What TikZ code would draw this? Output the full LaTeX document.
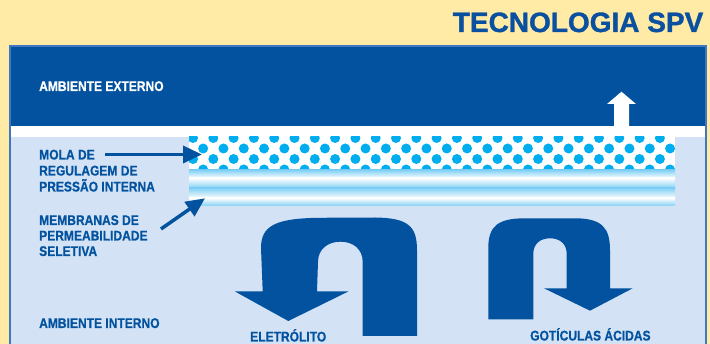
\documentclass[tikz,border=0pt]{standalone}
\usepackage{fontspec}
\setmainfont{Liberation Sans}
\newfontfamily\condfont{Liberation Sans Bold}[FakeStretch=0.86,FakeBold=0.6]
\newfontfamily\titlefont{Liberation Sans Bold}[FakeBold=1.2]
\usetikzlibrary{arrows.meta}
\definecolor{bgyellow}{RGB}{255,234,166}
\definecolor{darkblue}{RGB}{2,82,159}
\definecolor{titleblue}{RGB}{10,80,160}
\definecolor{paneblue}{RGB}{211,227,245}
\definecolor{borderblue}{RGB}{63,120,192}
\definecolor{dotcyan}{RGB}{0,174,239}
\definecolor{membblue}{RGB}{130,208,245}
\begin{document}
\begin{tikzpicture}[x=1pt,y=-1pt,
  lbl/.style={inner sep=0pt, anchor=base west, font=\condfont\fontsize{14}{16}\selectfont, text=darkblue},
  ptr/.style={draw=darkblue, line width=3.5pt, -{Triangle[length=19pt,width=17pt]}},
  bigarrow/.style={fill=darkblue}]
\useasboundingbox (0,0) rectangle (710,344);
% background and panel
\fill[bgyellow] (0,0) rectangle (710,344);
\fill[borderblue] (9,45) rectangle (707,344);
\fill[paneblue] (11,47) rectangle (705,344);
\fill[darkblue] (11,47) rectangle (705,126);
\fill[white] (11,126) rectangle (705,137.2);
% dotted spring layer
\begin{scope}
  \clip (189,137) rectangle (675,170);
  \fill[white] (189,137) rectangle (675,170);
  \foreach \r in {0,...,3} {
    \pgfmathsetmacro\yy{138+10.5*\r}
    \pgfmathsetmacro\xo{ifthenelse(mod(\r,2)==0,193,203.15)}
    \foreach \k in {-1,...,24}
      \fill[dotcyan] (\xo+20.3*\k,\yy) circle[radius=5];
  }
\end{scope}
% membrane layer
\shade[top color=membblue, bottom color=white] (189,170) rectangle (675,178.3);
\shade[top color=white, bottom color=membblue] (189,178) rectangle (675,188.3);
\shade[top color=membblue, bottom color=white] (189,188) rectangle (675,198.3);
\shade[top color=white, bottom color=membblue] (189,198) rectangle (675,206);
% white up arrow
\fill[white] (614,127) -- (614,104) -- (607,104) -- (621.5,91.7) -- (636,104) -- (629,104) -- (629,127) -- cycle;
% big U-turn arrows
\fill[bigarrow] (417,336) -- (417,250) .. controls (417,226) and (408,218) .. (375,217.5)
  -- (318,217.8) .. controls (275,218.5) and (261,226) .. (261,248)
  -- (262.7,291.5) -- (235,291.5) -- (288.3,321) -- (348.3,291.5) -- (317,291.5)
  -- (318,262) .. controls (318,249) and (328,241.7) .. (340.5,241.7)
  .. controls (353,241.7) and (362.7,249) .. (362.7,262) -- (362.7,336) -- cycle;
\fill[bigarrow] (488.3,319.3) -- (488.3,248) .. controls (488.3,226) and (498,218.3) .. (525,218.3)
  -- (575,218.3) .. controls (602,218.3) and (610,228) .. (610,250)
  -- (610,288.3) -- (632.7,288.3) -- (590,310.7) -- (544,288.3) -- (566.7,288.3)
  -- (566.7,254) .. controls (566.7,244) and (560,238.3) .. (550,238.3)
  .. controls (540,238.3) and (533.3,244) .. (533.3,254) -- (533.3,319.3) -- cycle;
% texts
\node[inner sep=0pt, anchor=base east, font=\titlefont\fontsize{28}{30}\selectfont, text=titleblue] (title) at (703.5,32) {TECNOLOGIA SPV};
\node[lbl, text=white] (ext) at (39,91) {AMBIENTE EXTERNO};
\node[lbl] (mola1) at (39,159.5) {MOLA DE};
\node[lbl] (mola2) at (39,175.5) {REGULAGEM DE};
\node[lbl] (mola3) at (39,191.5) {PRESSÃO INTERNA};
\node[lbl] (memb1) at (39,225) {MEMBRANAS DE};
\node[lbl] (memb2) at (39,240.5) {PERMEABILIDADE};
\node[lbl] (memb3) at (39,256) {SELETIVA};
\node[lbl] (int) at (39,328) {AMBIENTE INTERNO};
\node[lbl] (eletro) at (250,341.5) {ELETRÓLITO};
\node[lbl] (goti) at (530,340.5) {GOTÍCULAS ÁCIDAS};
% pointer arrows
\coordinate (molatail) at (105,154.5);
\coordinate (molatip) at (202,154.5);
\coordinate (membtail) at (161,229);
\coordinate (membtip) at (205,198.3);
\draw[ptr] (molatail) -- (molatip);
\draw[ptr] (membtail) -- (membtip);
\end{tikzpicture}
\end{document}
